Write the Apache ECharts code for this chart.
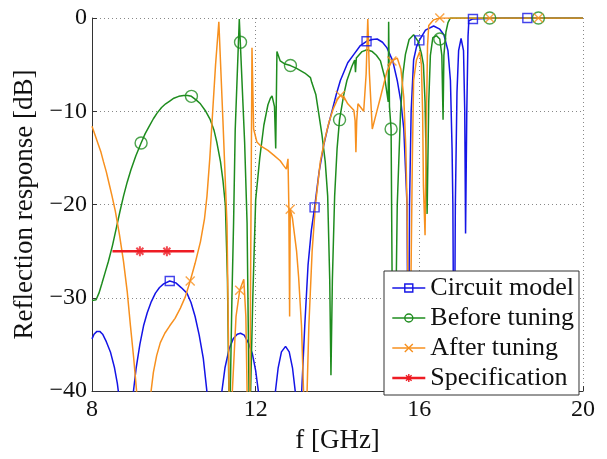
<!DOCTYPE html>
<html>
<head>
<meta charset="utf-8">
<script src="https://cdn.jsdelivr.net/npm/echarts@6/dist/echarts.min.js"></script>
<style>
html,body{margin:0;padding:0;background:#fff;}
#chart{width:607px;height:459px;}
</style>
</head>
<body>
<div id="chart"></div>
<script>
// ---- data (f in GHz, response in dB) ----
const xTicks = [8, 12, 16, 20];
const yTicks = [0, -10, -20, -30, -40];
const seriesNames = ['Circuit model', 'Before tuning', 'After tuning', 'Specification'];

const circuitModel = [
  [8.0,-34.4],[8.05,-33.9],[8.12,-33.6],[8.19,-33.6],[8.26,-33.9],[8.35,-34.7],[8.45,-35.8],[8.55,-37.5],
  [8.62,-39.2],[8.7,-42],[8.85,-48],[8.95,-44],[9.0,-40.5],[9.08,-37.5],[9.17,-35],[9.26,-33],[9.35,-31.6],
  [9.45,-30.4],[9.55,-29.5],[9.65,-28.9],[9.75,-28.5],[9.9,-28.2],[10.05,-28.4],[10.18,-28.9],[10.32,-29.5],
  [10.42,-30.5],[10.52,-32],[10.62,-34],[10.72,-36.5],[10.82,-40.5],[11.0,-48],[11.16,-40.5],[11.25,-37.5],
  [11.35,-35.5],[11.45,-34.4],[11.55,-33.9],[11.63,-33.8],[11.72,-34],[11.82,-34.8],[11.92,-36],[12.0,-37.8],
  [12.08,-40.5],[12.28,-47],[12.47,-40.5],[12.55,-37.5],[12.63,-35.8],[12.73,-35.2],[12.82,-35.8],[12.9,-37.5],
  [12.98,-40.5],[13.05,-46],[13.12,-40.5],[13.2,-33],[13.28,-26.5],[13.36,-22.8],[13.44,-20.3],[13.55,-16.5],
  [13.66,-13.7],[13.77,-11.6],[13.87,-9.9],[13.97,-8.2],[14.07,-6.7],[14.25,-4.8],[14.4,-3.9],[14.55,-3.0],
  [14.71,-2.5],[14.85,-2.3],[14.97,-2.25],[15.1,-2.6],[15.21,-3.2],[15.35,-4.6],[15.46,-6.7],[15.55,-9],
  [15.62,-11.9],[15.7,-20.1],[15.73,-45],[15.76,-20.1],[15.8,-10],[15.86,-4.5],[15.93,-3.1],[16.0,-2.4],
  [16.15,-1.3],[16.35,-0.86],[16.5,-1.2],[16.6,-1.8],[16.7,-3.5],[16.76,-6.7],[16.8,-14],[16.82,-20.1],
  [16.85,-45],[16.88,-20],[16.92,-8],[16.96,-3.5],[17.02,-2.2],[17.08,-3.5],[17.11,-10],[17.13,-23.1],
  [17.16,-10],[17.19,-2],[17.21,-0.3],[17.31,-0.1],[18.0,0],[20,0]
];
const beforeTuning = [
  [8.0,-30.3],[8.04,-30.5],[8.1,-30.2],[8.17,-29.5],[8.24,-28.5],[8.32,-27.3],[8.4,-26.1],[8.5,-24.4],
  [8.59,-22.6],[8.68,-20.8],[8.77,-19.1],[8.86,-17.6],[8.95,-16.3],[9.07,-14.8],[9.2,-13.4],[9.3,-12.4],
  [9.4,-11.6],[9.5,-10.8],[9.59,-10.2],[9.7,-9.6],[9.8,-9.2],[9.9,-8.9],[10.0,-8.6],[10.12,-8.4],
  [10.24,-8.3],[10.34,-8.3],[10.43,-8.4],[10.55,-8.8],[10.65,-9.2],[10.78,-10],[10.89,-10.9],[10.98,-12],
  [11.05,-13.3],[11.14,-15.4],[11.2,-17.4],[11.26,-20.1],[11.31,-28],[11.36,-45],[11.42,-30],[11.46,-22],
  [11.5,-12],[11.6,-0.1],[11.73,-13.3],[11.79,-22],[11.85,-45],[11.93,-30],[12.0,-19.5],[12.1,-15],
  [12.2,-11.5],[12.3,-9.3],[12.36,-8.6],[12.4,-8.35],[12.46,-9.5],[12.49,-14],[12.52,-3.6],[12.6,-4.6],
  [12.7,-4.9],[12.85,-5.1],[13.0,-5.4],[13.2,-5.9],[13.34,-6.4],[13.37,-6.9],[13.4,-6.8],[13.47,-8.2],
  [13.54,-10.2],[13.62,-12.5],[13.7,-15.4],[13.76,-19.1],[13.81,-28],[13.84,-38.3],[13.875,-28],[13.93,-19.1],
  [13.99,-14],[14.05,-10.9],[14.15,-8.3],[14.23,-6.7],[14.35,-5.2],[14.42,-4.5],[14.44,-5.8],[14.46,-4.3],
  [14.6,-3.6],[14.72,-3.4],[14.85,-3.6],[14.95,-4],[15.05,-4.6],[15.15,-6.3],[15.21,-8.1],[15.24,-9],
  [15.25,-0.4],[15.27,-9.5],[15.31,-11.9],[15.33,-25],[15.36,-45],[15.43,-30],[15.46,-20.1],[15.54,-10.2],
  [15.6,-6],[15.66,-3.9],[15.75,-2.3],[15.86,-1.8],[15.97,-2.5],[16.05,-3.8],[16.1,-5.0],[16.14,-9],
  [16.19,-21],[16.23,-9],[16.27,-4],[16.33,-2.1],[16.42,-1.9],[16.5,-2.25],[16.55,-4],[16.58,-10.9],
  [16.6,-4],[16.65,-1.5],[16.7,-0.5],[16.76,0],[20,0]
];
const afterTuning = [
  [8.0,-11.6],[8.07,-12.5],[8.15,-13.5],[8.22,-14.4],[8.28,-15.4],[8.35,-16.5],[8.42,-17.8],[8.49,-19.1],
  [8.57,-20.7],[8.67,-23.2],[8.77,-26.1],[8.86,-29.3],[8.94,-33],[9.02,-36.5],[9.1,-40.5],[9.25,-48],
  [9.43,-40.5],[9.5,-38],[9.58,-36.2],[9.67,-34.8],[9.78,-33.8],[9.9,-33],[10.03,-32.2],[10.16,-31.1],
  [10.28,-29.9],[10.4,-28.2],[10.52,-26.3],[10.65,-24],[10.75,-21.5],[10.81,-19.1],[10.88,-15],[10.95,-10],
  [11.02,-5],[11.1,-0.4],[11.2,-11],[11.3,-22.2],[11.35,-40],[11.38,-48],[11.43,-40],[11.52,-32],
  [11.61,-29.2],[11.71,-28],[11.76,-32],[11.81,-45],[11.86,-40],[11.91,-3.2],[11.95,-11.9],[12.03,-13.3],
  [12.12,-13.7],[12.3,-14.2],[12.44,-14.7],[12.6,-15.3],[12.68,-15.8],[12.75,-16.2],[12.79,-15.1],
  [12.81,-20],[12.83,-32],[12.845,-20.5],[12.9,-21.5],[13.0,-25],[13.05,-27.8],[13.12,-33],[13.17,-40],
  [13.22,-46],[13.3,-33],[13.38,-25],[13.46,-20.1],[13.58,-15.4],[13.69,-13],[13.79,-11.2],[13.89,-9.8],
  [13.99,-8.8],[14.07,-8.3],[14.15,-8.4],[14.25,-9.2],[14.4,-9.9],[14.43,-11],[14.45,-14.4],[14.47,-11],
  [14.5,-9.2],[14.64,-10],[14.7,-6],[14.74,-0.1],[14.78,-6],[14.85,-11.9],[14.95,-10.2],[15.05,-8.5],
  [15.21,-5.7],[15.33,-4.6],[15.46,-4.3],[15.55,-5.5],[15.62,-8.5],[15.67,-14],[15.7,-20.1],[15.73,-32],
  [15.76,-45],[15.79,-30],[15.83,-15],[15.86,-6.7],[15.93,-4.5],[16.01,-3.6],[16.05,-5],[16.08,-10],
  [16.1,-18],[16.14,-23.3],[16.17,-12],[16.2,-3],[16.23,-0.8],[16.35,-0.2],[16.5,0],[20,0]
];
const specification = [[8.5,-25],[9.17,-25],[9.83,-25],[10.5,-25]];

const circuitMarks = [[9.9,-28.2],[13.44,-20.3],[14.71,-2.5],[16.0,-2.4],[17.31,-0.1],[18.64,0]];
const beforeMarks = [[9.2,-13.4],[10.43,-8.4],[11.63,-2.6],[12.85,-5.1],[14.05,-10.9],[15.31,-11.9],[16.5,-2.25],[17.72,0],[18.91,0]];
const afterMarks = [[10.4,-28.2],[11.61,-29.2],[12.845,-20.5],[14.07,-8.3],[15.33,-4.6],[16.5,0],[17.72,0],[18.91,0]];
const specMarks = [[9.17,-25],[9.83,-25]];

// ---- styling ----
const colors = ['#1414e6', '#1e8c1e', '#f7901e', '#ee1c24'];
const symbols = [
  'rect',
  'circle',
  'path://M0,0L10,10M10,0L0,10',
  'path://M5,0L5,10M0,5L10,5M1.5,1.5L8.5,8.5M8.5,1.5L1.5,8.5'
];
const symSizes = [9, 12, 9, 10];
const lineWidths = [1.5, 1.5, 1.5, 2.6];
const lines = [circuitModel, beforeTuning, afterTuning, specification];
const marks = [circuitMarks, beforeMarks, afterMarks, specMarks];
const FONT = "'Liberation Serif','Times New Roman',serif";

const series = [];
seriesNames.forEach((n, i) => {
  series.push({
    name: n, type: 'line', data: lines[i], showSymbol: false,
    symbol: symbols[i], symbolSize: symSizes[i],
    lineStyle: {color: colors[i], width: lineWidths[i]},
    itemStyle: {color: 'rgba(0,0,0,0)', borderColor: colors[i], borderWidth: 1.4},
    clip: true, silent: true, animation: false, z: 2 + i * 0.1
  });
});
seriesNames.forEach((n, i) => {
  series.push({
    name: n, type: 'scatter', data: marks[i],
    symbol: symbols[i], symbolSize: symSizes[i],
    itemStyle: {color: 'rgba(0,0,0,0)', borderColor: colors[i], borderWidth: i === 3 ? 2 : 1.4},
    clip: false, silent: true, animation: false, z: 3
  });
});

const minus = v => (v < 0 ? '\u2212' + (-v) : String(v));

const chart = echarts.init(document.getElementById('chart'), null, {renderer: 'canvas'});
chart.setOption({
  animation: false,
  backgroundColor: '#fff',
  grid: {left: 92, right: 24, top: 18, bottom: 59},
  xAxis: {
    type: 'value', min: xTicks[0], max: xTicks[xTicks.length - 1], interval: xTicks[1] - xTicks[0],
    name: 'f [GHz]', nameLocation: 'middle', nameGap: 24,
    nameTextStyle: {fontFamily: FONT, fontSize: 27, color: '#111'},
    axisLine: {show: true, onZero: false, lineStyle: {color: '#333', width: 1}},
    axisTick: {show: true, inside: true, length: 5, lineStyle: {color: '#333'}},
    axisLabel: {fontFamily: FONT, fontSize: 24, color: '#111', margin: 7},
    splitLine: {show: true, lineStyle: {color: '#888', width: 1, type: [1, 3]}}
  },
  yAxis: {
    type: 'value', min: yTicks[yTicks.length - 1], max: yTicks[0], interval: yTicks[0] - yTicks[1],
    name: 'Reflection response [dB]', nameLocation: 'middle', nameGap: 48,
    nameTextStyle: {fontFamily: FONT, fontSize: 27, color: '#111'},
    axisLine: {show: true, onZero: false, lineStyle: {color: '#333', width: 1}},
    axisTick: {show: true, inside: true, length: 5, lineStyle: {color: '#333'}},
    axisLabel: {fontFamily: FONT, fontSize: 24, color: '#111', margin: 5, formatter: minus},
    splitLine: {show: true, lineStyle: {color: '#888', width: 1, type: [1, 3]}}
  },
  legend: {
    orient: 'vertical', left: 384, top: 271,
    itemWidth: 33, itemHeight: 10, itemGap: 4,
    padding: [4, 5, 4, 7],
    borderColor: '#333', borderWidth: 1, backgroundColor: '#fff',
    textStyle: {fontFamily: FONT, fontSize: 26, color: '#111'},
    selectedMode: false,
    data: seriesNames.map((n, i) => ({
      name: n,
      itemStyle: {color: 'rgba(0,0,0,0)', borderColor: colors[i], borderWidth: 1.4},
      lineStyle: {color: colors[i], width: lineWidths[i]}
    }))
  },
  series: series
});
</script>
</body>
</html>
